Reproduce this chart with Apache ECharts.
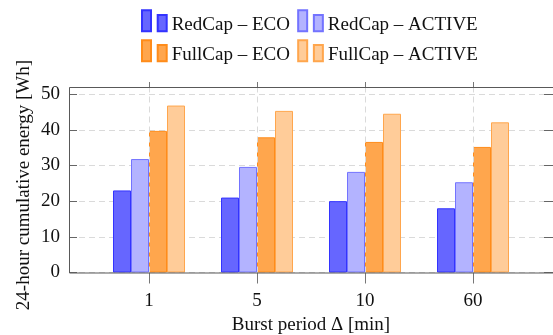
<!DOCTYPE html>
<html>
<head>
<meta charset="utf-8">
<script src="https://cdn.jsdelivr.net/npm/echarts@6/dist/echarts.min.js"></script>
<style>
html,body{margin:0;padding:0;background:#fff;}
#chart{width:553px;height:335px;}
</style>
</head>
<body>
<div id="chart"></div>
<script>
const categories = ['1', '5', '10', '60'];
const seriesNames = ['RedCap – ECO', 'RedCap – ACTIVE', 'FullCap – ECO', 'FullCap – ACTIVE'];
const redcapEco = [23.0, 21.0, 20.0, 18.0];
const redcapActive = [31.8, 29.6, 28.2, 25.3];
const fullcapEco = [39.7, 37.9, 36.6, 35.2];
const fullcapActive = [46.8, 45.3, 44.5, 42.1];
const yTicks = [0, 10, 20, 30, 40, 50];
const yLabel = '24-hour cumulative energy [Wh]';
const xLabel = 'Burst period Δ [min]';

const FONT = 'Liberation Serif';
const FS = 19;
const fills = ['#6666ff', '#b3b3ff', '#ffa64d', '#ffcc99'];
const strokes = ['#3333ff', '#7373ff', '#ff8c1a', '#ffa64d'];
const values = [redcapEco, redcapActive, fullcapEco, fullcapActive];

const chart = echarts.init(document.getElementById('chart'), null, {renderer: 'canvas'});

const PL = 69, PT = 87, PW = 484, PH = 185.5;
const band = 108;
const innerL = 149 - band / 2;

const dashed = {type: [6, 4], color: '#dadada', width: 1};
const legendIcon = 'path://M0,0h9v21h-9z M15.7,4.7h9v16.3h-9z';

const barSeries = seriesNames.map((n, i) => ({
  name: n,
  type: 'bar',
  xAxisIndex: 1,
  yAxisIndex: 2,
  data: values[i],
  barWidth: 18,
  barGap: '0%',
  z: 3,
  itemStyle: {color: fills[i], borderColor: strokes[i], borderWidth: 1},
  emphasis: {disabled: true}
}));

const legendCommon = {
  left: 141,
  padding: 0,
  itemWidth: 24.7,
  itemHeight: 21,
  itemGap: 7,
  icon: legendIcon,
  selectedMode: false,
  formatter: name => '{a|' + name + '}{s| }',
  textStyle: {
    fontFamily: FONT, fontSize: FS, color: '#111',
    rich: {
      a: {fontFamily: FONT, fontSize: FS, color: '#111', lineHeight: 19, verticalAlign: 'bottom'},
      s: {fontSize: 1, lineHeight: 28}
    }
  }
};

chart.setOption({
  animation: false,
  backgroundColor: '#fff',
  legend: [
    Object.assign({}, legendCommon, {top: 9.3, data: seriesNames.slice(0, 2)}),
    Object.assign({}, legendCommon, {top: 39.3, data: seriesNames.slice(2, 4)})
  ],
  grid: [
    {left: PL, top: PT, width: PW, height: PH, show: false, outerBoundsMode: 'none', containLabel: false},
    {left: innerL, top: PT, width: band * 4, height: PH, outerBoundsMode: 'none', containLabel: false}
  ],
  xAxis: [
    {gridIndex: 0, type: 'value', min: 0, max: 1, show: false},
    {
      gridIndex: 1, type: 'category', position: 'bottom', data: categories,
      axisLine: {show: false},
      axisTick: {show: true, alignWithLabel: true, length: 11, lineStyle: {color: '#777'}},
      axisLabel: {fontFamily: FONT, fontSize: FS, color: '#111', margin: 19},
      splitLine: {show: false},
      name: xLabel, nameLocation: 'middle', nameGap: 43,
      nameTextStyle: {fontFamily: FONT, fontSize: FS, color: '#111'}
    },
    {
      gridIndex: 1, type: 'category', position: 'top', data: categories,
      axisLine: {show: false},
      axisTick: {show: true, alignWithLabel: true, length: 5, lineStyle: {color: '#777'}},
      axisLabel: {show: false},
      splitLine: {show: false}
    }
  ],
  yAxis: [
    {
      gridIndex: 0, type: 'value', min: 0, max: 52, interval: 10, position: 'left',
      axisLine: {show: false},
      axisTick: {show: true, inside: true, length: 8, lineStyle: {color: '#666'}},
      axisLabel: {fontFamily: FONT, fontSize: FS, color: '#111', margin: 9, showMaxLabel: false,
        formatter: v => (yTicks.indexOf(v) >= 0 ? String(v) : '')},
      splitLine: {show: true, lineStyle: dashed}
    },
    {
      gridIndex: 0, type: 'value', min: 0, max: 52, interval: 10, position: 'right',
      axisLine: {show: false},
      axisTick: {show: true, inside: true, length: 9, lineStyle: {color: '#666'}},
      axisLabel: {show: false},
      splitLine: {show: false}
    },
    {gridIndex: 1, type: 'value', min: 0, max: 52, show: false}
  ],
  graphic: [{
    type: 'text',
    x: 24, y: 185,
    rotation: Math.PI / 2,
    style: {text: yLabel, fontFamily: FONT, fontSize: FS, fill: '#111', align: 'center', verticalAlign: 'middle'}
  }, {
    type: 'rect',
    z: 100,
    silent: true,
    shape: {x: PL + 0.5, y: PT + 0.5, width: PW, height: PH},
    style: {fill: 'none', stroke: '#595959', lineWidth: 1}
  }],
  series: [{
    type: 'line', xAxisIndex: 1, yAxisIndex: 2, data: [], z: 1, silent: true,
    markLine: {
      silent: true, symbol: 'none', label: {show: false},
      lineStyle: dashed, emphasis: {disabled: true},
      data: categories.map(c => ({xAxis: c}))
    }
  }].concat(barSeries)
});
</script>
</body>
</html>
